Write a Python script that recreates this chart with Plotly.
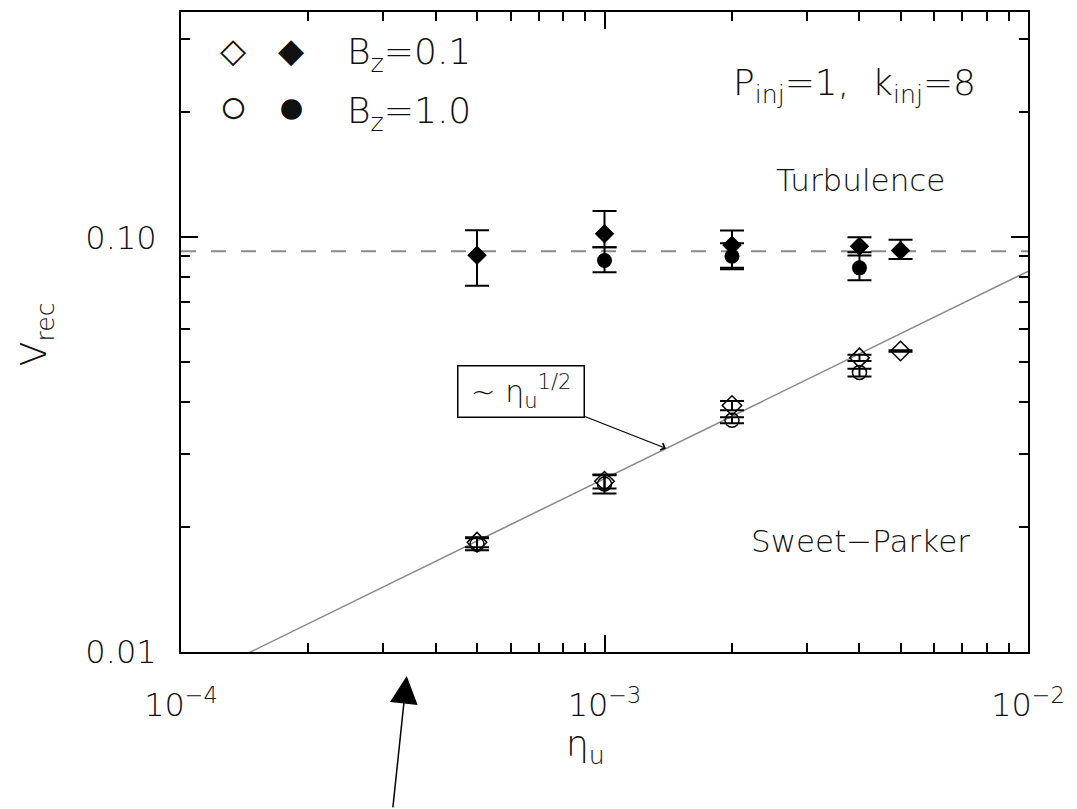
import plotly.graph_objects as go

# ---------------- data ----------------
ETA_BZ01_TURB = [5e-4, 1e-3, 2e-3, 4e-3, 5e-3]
V_BZ01_TURB = [0.0905, 0.102, 0.0957, 0.0952, 0.0929]
V_BZ01_TURB_EP = [0.0135, 0.0137, 0.0082, 0.0048, 0.0058]
V_BZ01_TURB_EM = [0.0141, 0.0074, 0.0112, 0.0032, 0.0042]

ETA_BZ10_TURB = [1e-3, 2e-3, 4e-3]
V_BZ10_TURB = [0.0879, 0.0900, 0.0844]
V_BZ10_TURB_EP = [0.0067, 0.0067, 0.0060]
V_BZ10_TURB_EM = [0.0055, 0.0063, 0.0056]

ETA_BZ01_SP = [5e-4, 1e-3, 2e-3, 4e-3, 5e-3]
V_BZ01_SP = [0.0184, 0.0258, 0.0393, 0.0512, 0.0532]
V_BZ01_SP_ERR = [0.0005, 0.0010, 0.0010, 0.0009, 0.0002]

ETA_BZ10_SP = [5e-4, 1e-3, 2e-3, 4e-3]
V_BZ10_SP = [0.0182, 0.0254, 0.0362, 0.0472]
V_BZ10_SP_ERR = [0.0006, 0.0013, 0.0006, 0.0010]

TURB_ETA = [1e-4, 1e-2]
TURB_LEVEL = [0.0925, 0.0925]

FIT_ETA = [1e-4, 1e-2]
FIT_V = [0.00828, 0.0828]

X_TICKS = [1e-4, 1e-3, 1e-2]
X_TICK_TEXT = ["10<sup>\u22124</sup>", "10<sup>\u22123</sup>", "10<sup>\u22122</sup>"]
X_MINOR = [2e-4, 3e-4, 4e-4, 5e-4, 6e-4, 7e-4, 8e-4, 9e-4,
           2e-3, 3e-3, 4e-3, 5e-3, 6e-3, 7e-3, 8e-3, 9e-3]
Y_TICKS = [0.01, 0.1]
Y_TICK_TEXT = ["0.01", "0.10"]
Y_MINOR = [0.02, 0.03, 0.04, 0.05, 0.06, 0.07, 0.08, 0.09, 0.2, 0.3]

FONT = "DejaVu Sans"
INK = "#111111"

fig = go.Figure()

fig.add_trace(go.Scatter(x=TURB_ETA, y=TURB_LEVEL, mode="lines",
                         line=dict(color="#8a8a8a", width=2, dash="15px,15px"),
                         showlegend=False, hoverinfo="skip"))
fig.add_trace(go.Scatter(x=FIT_ETA, y=FIT_V, mode="lines",
                         line=dict(color="#8a8a8a", width=1.5),
                         showlegend=False, hoverinfo="skip"))


def err(plus, minus=None):
    d = dict(type="data", array=plus, color="black", thickness=2, width=12, visible=True)
    if minus is not None:
        d["symmetric"] = False
        d["arrayminus"] = minus
    return d


fig.add_trace(go.Scatter(x=ETA_BZ10_SP, y=V_BZ10_SP, mode="markers",
                         marker=dict(symbol="circle-open", size=14, color="black",
                                     line=dict(width=1.5, color="black")),
                         error_y=err(V_BZ10_SP_ERR), showlegend=False))
fig.add_trace(go.Scatter(x=ETA_BZ01_SP, y=V_BZ01_SP, mode="markers",
                         marker=dict(symbol="diamond-open", size=15, color="black",
                                     line=dict(width=1.5, color="black")),
                         error_y=err(V_BZ01_SP_ERR), showlegend=False))
fig.add_trace(go.Scatter(x=ETA_BZ10_TURB, y=V_BZ10_TURB, mode="markers",
                         marker=dict(symbol="circle", size=15, color="black"),
                         error_y=err(V_BZ10_TURB_EP, V_BZ10_TURB_EM), showlegend=False))
fig.add_trace(go.Scatter(x=ETA_BZ01_TURB, y=V_BZ01_TURB, mode="markers",
                         marker=dict(symbol="diamond", size=15, color="black"),
                         error_y=err(V_BZ01_TURB_EP, V_BZ01_TURB_EM), showlegend=False))

axis_common = dict(
    showline=True, linecolor="black", linewidth=2, mirror="ticks",
    ticks="inside", ticklen=17, tickwidth=1.5, tickcolor="black",
    showgrid=False, zeroline=False,
    tickfont=dict(family=FONT, size=32, color=INK, weight=200),
)

fig.update_xaxes(type="log", range=[-4, -2], tickvals=X_TICKS, ticktext=X_TICK_TEXT,
                 ticklabelstandoff=24,
                 minor=dict(tickvals=X_MINOR, ticks="inside", ticklen=9, tickwidth=1.5,
                            tickcolor="black", showgrid=False),
                 **axis_common)
fig.update_yaxes(type="log", range=[-2, -0.4567], tickvals=Y_TICKS, ticktext=Y_TICK_TEXT,
                 ticklabelstandoff=16,
                 minor=dict(tickvals=Y_MINOR, ticks="inside", ticklen=9, tickwidth=1.5,
                            tickcolor="black", showgrid=False),
                 **axis_common)

ann = []


def txt(text, x, y, size, xanchor="center", yanchor="middle", angle=0):
    ann.append(dict(text=text, x=x, y=y, xref="paper", yref="paper", showarrow=False,
                    xanchor=xanchor, yanchor=yanchor, textangle=angle,
                    font=dict(family=FONT, size=size, color=INK, weight=200)))


# legend
txt("\u25C7", 0.062, 0.941, 34)
txt("\u25C6", 0.130, 0.941, 34)
txt("\u25CB", 0.062, 0.853, 48)
txt("\u25CF", 0.130, 0.853, 48)
txt("B<sub>z</sub>=0.1", 0.194, 0.933, 36, xanchor="left")
txt("B<sub>z</sub>=1.0", 0.194, 0.841, 36, xanchor="left")

txt("P<sub>inj</sub>=1,\u00a0\u00a0k<sub>inj</sub>=8", 0.795, 0.885, 36)
txt("Turbulence", 0.802, 0.738, 31)
txt("Sweet\u2212Parker", 0.802, 0.173, 31)

# axis titles
txt("V<sub>rec</sub>", -0.1697, 0.497, 36, angle=-90)
txt("\u03b7<sub>u</sub>", 0.477, -0.148, 36)

# power-law label with arrow
ann.append(dict(text="~ \u03b7<sub>u</sub><sup>1/2</sup>", x=-2.855, y=-1.509, xref="x", yref="y",
                showarrow=True, ax=-145, ay=-57, arrowhead=4, arrowsize=1.2, arrowwidth=1.2,
                arrowcolor="black", standoff=0, bordercolor="black", borderwidth=1.5,
                bgcolor="white", width=123, height=48,
                font=dict(family=FONT, size=30, color=INK, weight=200)))

# big arrow below the axis
ann.append(dict(text="", x=-3.467, y=-0.0374, xref="x", yref="paper",
                showarrow=True, ax=-14, ay=133, arrowhead=2, arrowsize=3.7, arrowwidth=1.5,
                arrowcolor="black", standoff=0))

fig.update_layout(
    width=1077, height=809,
    margin=dict(l=181, r=49, t=10, b=157),
    paper_bgcolor="white", plot_bgcolor="white",
    showlegend=False,
    annotations=ann,
)

fig.write_html("out.html")
